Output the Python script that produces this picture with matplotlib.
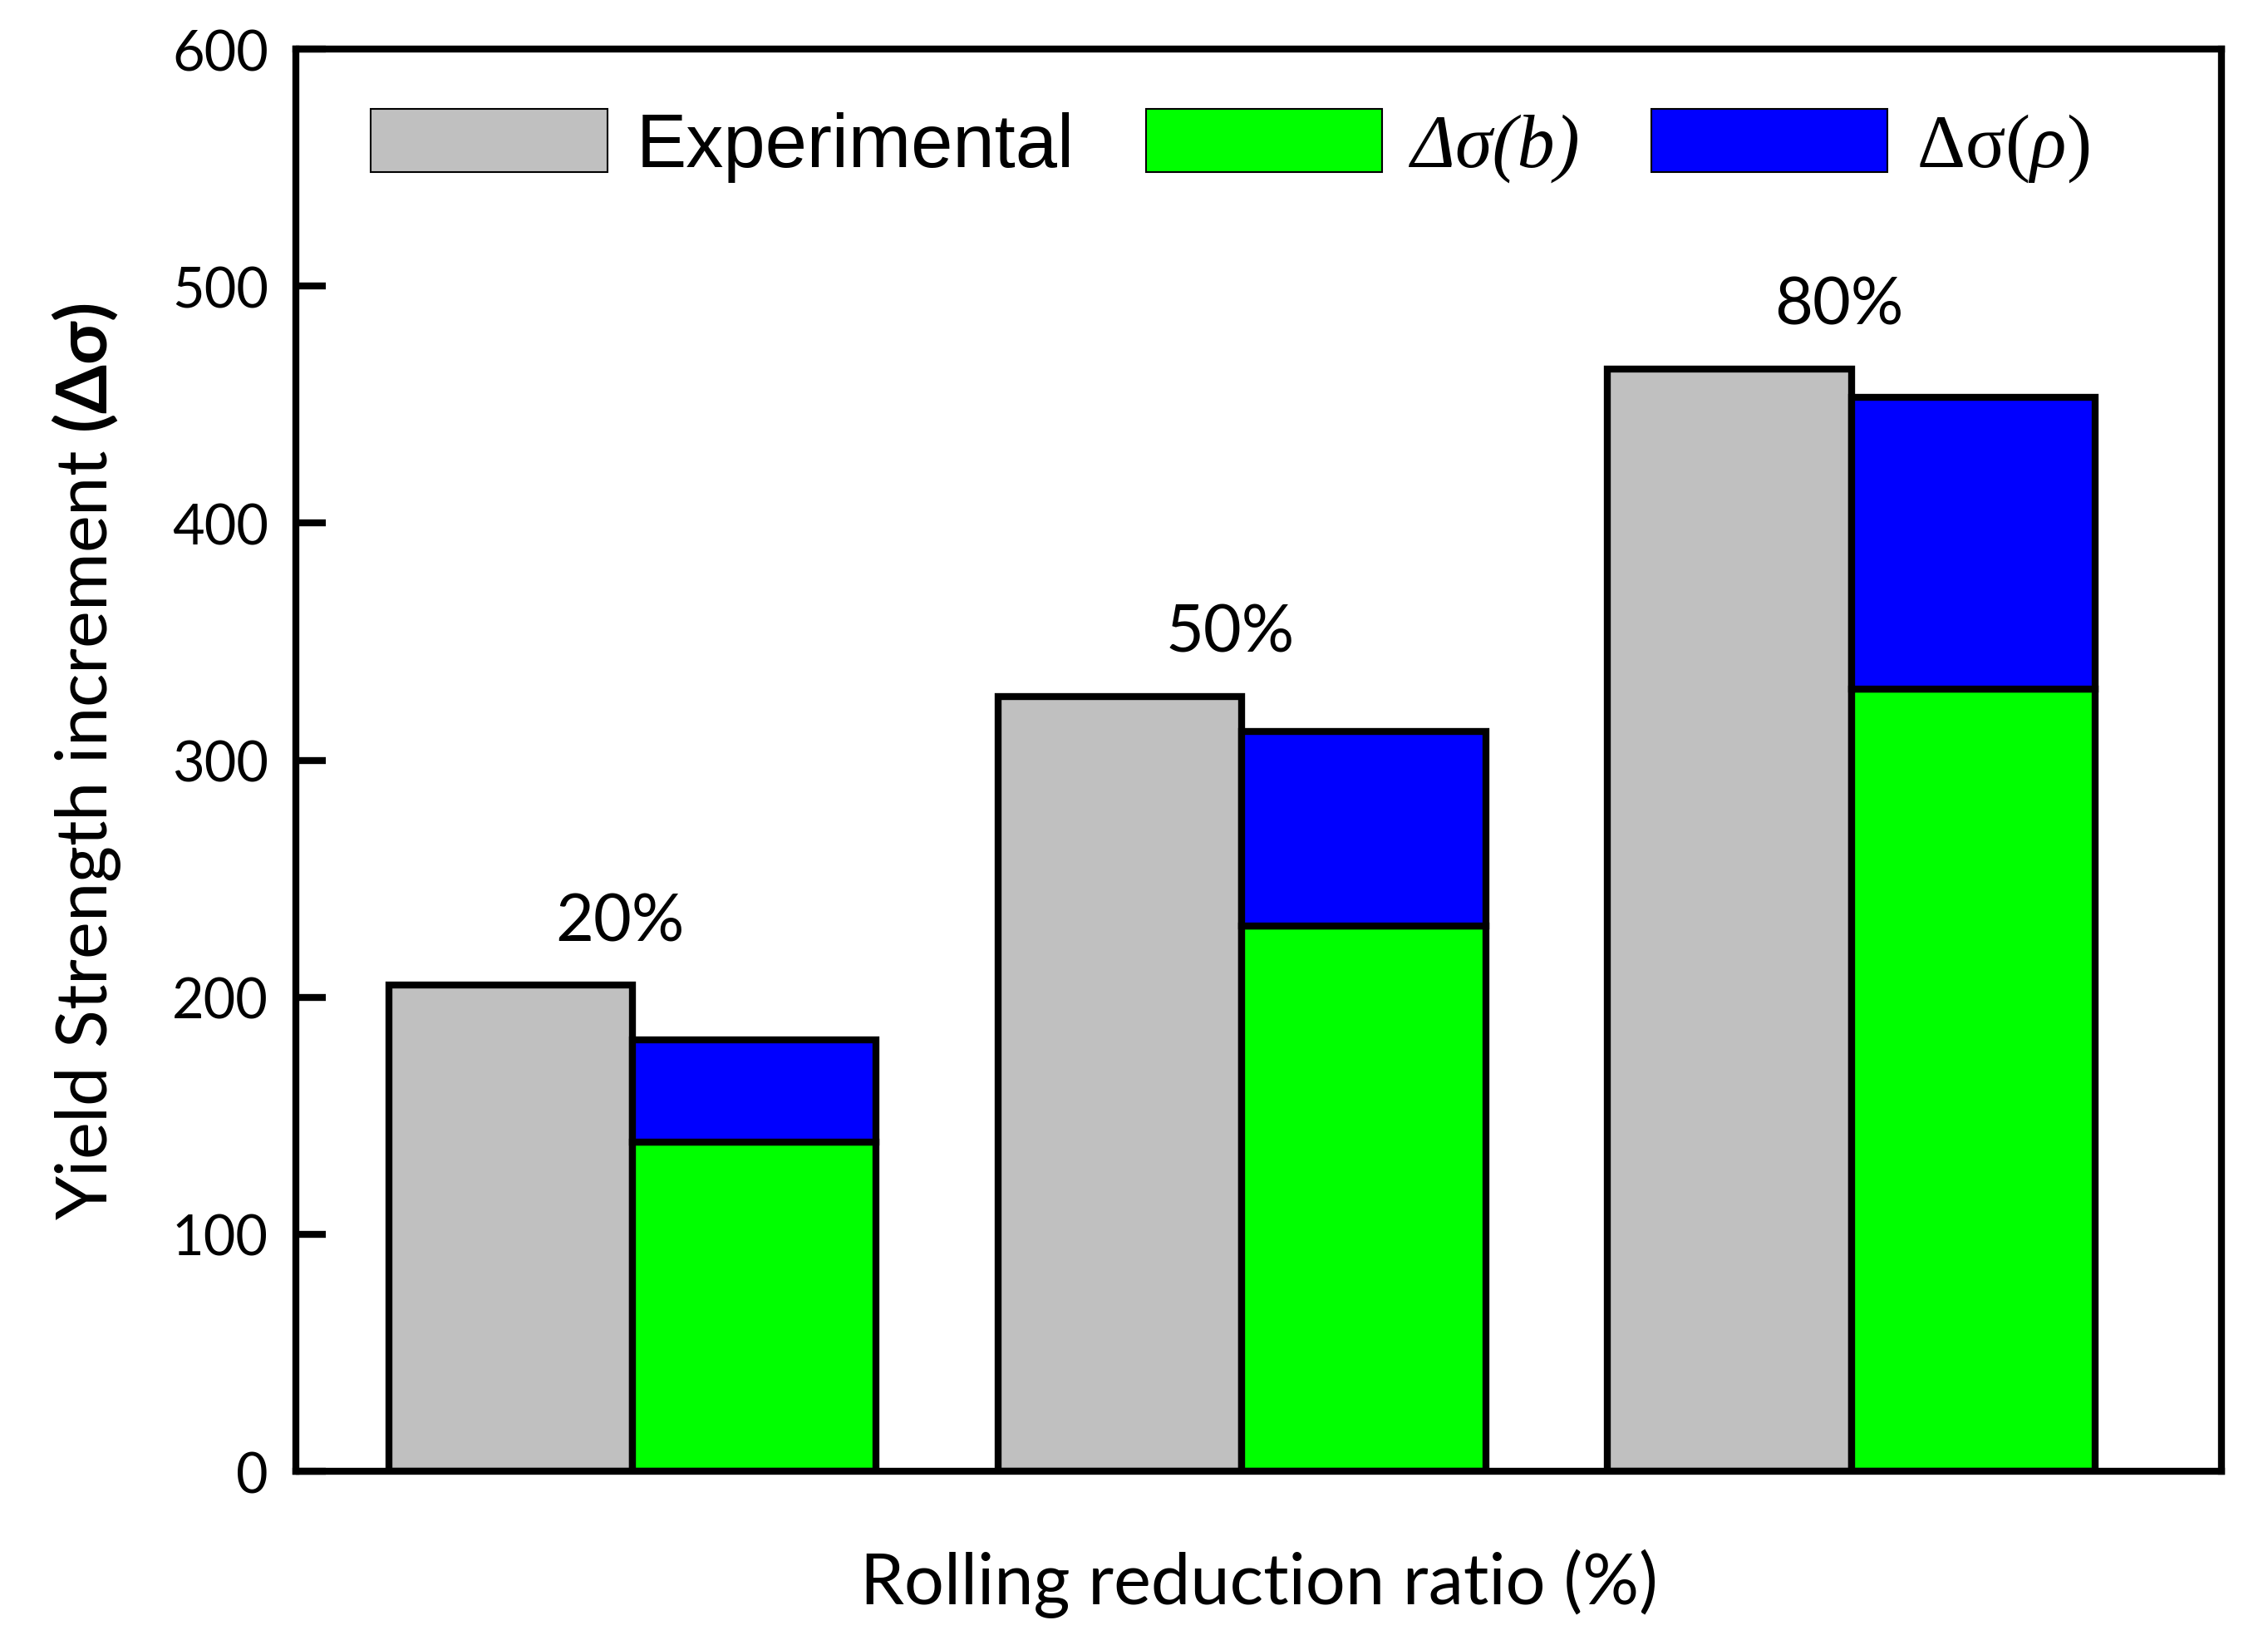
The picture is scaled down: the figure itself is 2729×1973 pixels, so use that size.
import matplotlib

matplotlib.use("Agg")
import matplotlib.pyplot as plt  # noqa: E402
import numpy as np  # noqa: E402
from matplotlib.patches import Patch  # noqa: E402

# data
ratios = ["20%", "50%", "80%"]
experimental = [205, 327, 465]
dsigma_b = [139, 230, 330]
dsigma_rho = [43, 82, 123]  # stacked on top of dsigma_b

GRAY = "#C0C0C0"
GREEN = "#00FF00"
BLUE = "#0000FF"

plt.rcParams["font.family"] = ["Lato", "DejaVu Sans"]
plt.rcParams["mathtext.fontset"] = "custom"
plt.rcParams["mathtext.rm"] = "Liberation Serif"
plt.rcParams["mathtext.it"] = "Liberation Serif:italic"
plt.rcParams["mathtext.bf"] = "Lato:bold"

fig = plt.figure(figsize=(27.29, 19.74), dpi=100)
ax = fig.add_axes([0.1305, 0.1028, 0.849, 0.8668])

x = np.arange(len(ratios))
w = 0.4
lw_bar = 6
ax.bar(x - w / 2, experimental, w, color=GRAY, edgecolor="black", linewidth=lw_bar, zorder=2)
ax.bar(x + w / 2, dsigma_b, w, color=GREEN, edgecolor="black", linewidth=lw_bar, zorder=2)
ax.bar(x + w / 2, dsigma_rho, w, bottom=dsigma_b, color=BLUE, edgecolor="black",
       linewidth=lw_bar, zorder=2)

tops = np.maximum(experimental, np.add(dsigma_b, dsigma_rho))
for xi, top, lab in zip(x, tops, ratios):
    ax.annotate(lab, (xi - 0.02, top), textcoords="offset points", xytext=(0, 39),
                ha="center", va="baseline", fontsize=57)

ax.set_xlim(-0.552, 2.607)
ax.set_ylim(0, 600)
ax.set_yticks(np.arange(0, 601, 100))
ax.set_xticks([])
ax.tick_params(axis="y", direction="in", length=26, width=6, labelsize=48, pad=24)
for sp in ax.spines.values():
    sp.set_linewidth(6)

ax.set_xlabel("Rolling reduction ratio (%)", fontsize=61)
ax.xaxis.set_label_coords(0.5, -0.054)
ax.set_ylabel(r"Yield Strength increment $\mathbf{(Δσ)}$", fontsize=61)
ax.yaxis.set_label_coords(-0.090, 0.5)

handles = [
    Patch(facecolor=GRAY, edgecolor="black", linewidth=1.5),
    Patch(facecolor=GREEN, edgecolor="black", linewidth=1.5),
    Patch(facecolor=BLUE, edgecolor="black", linewidth=1.5),
]
labels = ["Experimental", "Δσ(b)", r"$\mathrm{Δσ}(ρ)$"]
leg = ax.legend(handles, labels, loc="upper left", bbox_to_anchor=(0.039, 0.958),
                ncol=3, frameon=False, borderpad=0, borderaxespad=0,
                handlelength=3.15, handleheight=0.92, handletextpad=0.39,
                columnspacing=0.95, prop={"family": "Liberation Sans", "size": 65})
# the b-term label is set in serif italic, like in the original figure
leg.get_texts()[1].set_fontfamily("Liberation Serif")
leg.get_texts()[1].set_fontstyle("italic")

fig.savefig("out.png", dpi=100)
